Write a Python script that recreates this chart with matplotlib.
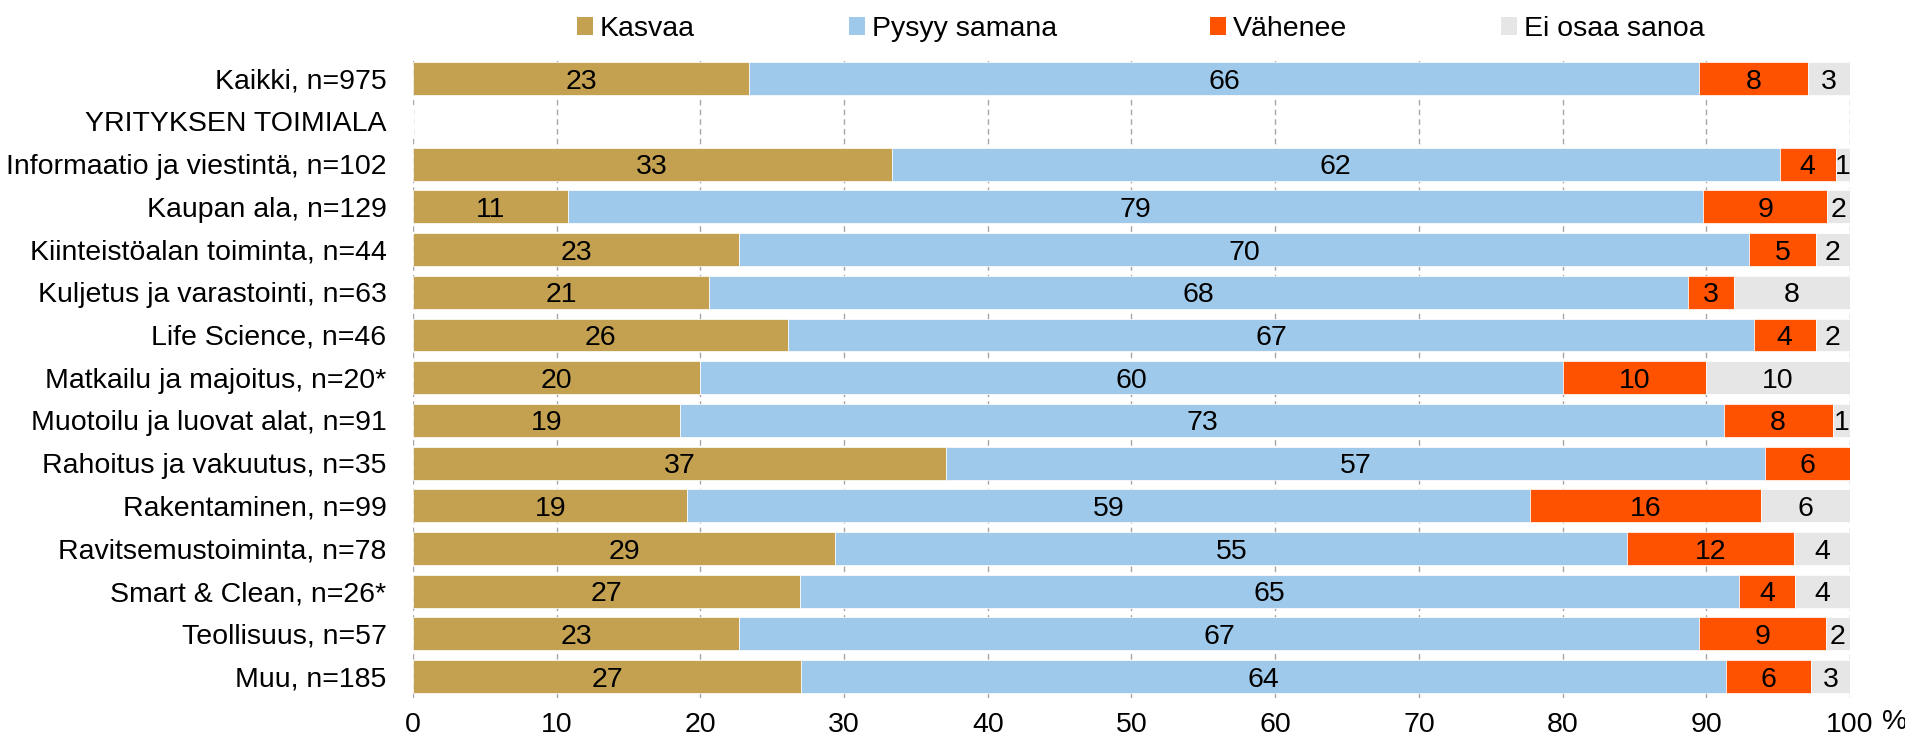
import numpy as np
import matplotlib
matplotlib.use("Agg")
import matplotlib.pyplot as plt
import matplotlib.patches as patches

plt.rcParams['font.family'] = ['Liberation Sans', 'DejaVu Sans']

categories = [
    "Kaikki, n=975",
    "YRITYKSEN TOIMIALA",
    "Informaatio ja viestintä, n=102",
    "Kaupan ala, n=129",
    "Kiinteistöalan toiminta, n=44",
    "Kuljetus ja varastointi, n=63",
    "Life Science, n=46",
    "Matkailu ja majoitus, n=20*",
    "Muotoilu ja luovat alat, n=91",
    "Rahoitus ja vakuutus, n=35",
    "Rakentaminen, n=99",
    "Ravitsemustoiminta, n=78",
    "Smart & Clean, n=26*",
    "Teollisuus, n=57",
    "Muu, n=185",
]
nan = np.nan
kasvaa = [23.4, nan, 33.3, 10.8, 22.7, 20.6, 26.1, 20.0, 18.6, 37.1, 19.1, 29.4, 26.9, 22.7, 27.0]
pysyy = [66.1, nan, 61.8, 79.0, 70.3, 68.1, 67.2, 60.0, 72.6, 57.0, 58.6, 55.1, 65.4, 66.8, 64.4]
vahenee = [7.6, nan, 3.9, 8.6, 4.6, 3.2, 4.3, 10.0, 7.6, 5.9, 16.1, 11.6, 3.85, 8.8, 5.9]
ei_osaa = [2.9, nan, 1.0, 1.6, 2.4, 8.1, 2.4, 10.0, 1.2, 0.0, 6.2, 3.9, 3.85, 1.7, 2.7]

series = [
    ("Kasvaa", kasvaa, "#C4A150"),
    ("Pysyy samana", pysyy, "#9FC9EA"),
    ("Vähenee", vahenee, "#FF5200"),
    ("Ei osaa sanoa", ei_osaa, "#E6E6E6"),
]

FS = 20.5

fig = plt.figure(figsize=(19.06, 7.4), dpi=100)
ax = fig.add_axes([413 / 1906, 1 - 698 / 740, (1850 - 413) / 1906, (698 - 57.4) / 740])

y = np.arange(len(categories))
left = np.zeros(len(categories))
handles = []
for name, vals, color in series:
    vals = np.array(vals, dtype=float)
    v = np.nan_to_num(vals)
    ax.barh(y, v, left=left, height=0.77, color=color, edgecolor='white',
            linewidth=0.5, zorder=2)
    for i, val in enumerate(vals):
        if np.isnan(val) or val <= 0:
            continue
        ax.text(left[i] + val / 2, y[i], f"{val:.0f}", ha='center', va='center_baseline',
                fontsize=FS, color='black', zorder=3)
    left += v
    handles.append(patches.Patch(facecolor=color, edgecolor='none', label=name))

ax.set_xlim(0, 100)
ax.set_ylim(len(categories) - 0.5, -0.5)
ax.set_xticks(np.arange(0, 101, 10))
ax.set_xticklabels([str(t) for t in range(0, 101, 10)], fontsize=FS)
ax.set_yticks(y)
ax.set_yticklabels(categories, fontsize=FS)
ax.tick_params(axis='both', length=0)
ax.tick_params(axis='y', pad=19)
ax.tick_params(axis='x', pad=10)
for s in ax.spines.values():
    s.set_visible(False)
ax.grid(axis='x', color='#A6A6A6', linestyle=(0, (4, 3)), linewidth=1, zorder=0)
ax.set_axisbelow(True)

fig.text(1882 / 1906, 1 - 722 / 740, "%", fontsize=FS, ha='left', va='center')

fig.legend(handles=handles, loc='center', bbox_to_anchor=(1141 / 1906, 1 - 29 / 740),
           ncol=4, frameon=False, fontsize=FS, handlelength=0.55, handleheight=0.55,
           handletextpad=0.25, columnspacing=5.4, borderpad=0)

fig.savefig("out.png", dpi=100)
